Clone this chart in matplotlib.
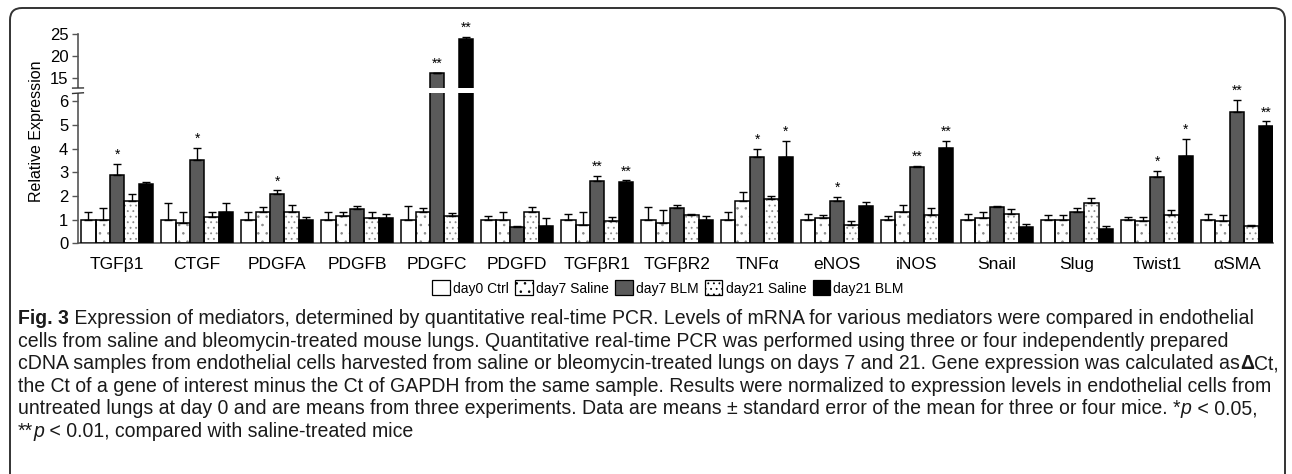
import matplotlib
matplotlib.use('Agg')
import matplotlib.pyplot as plt
import numpy as np
from matplotlib import font_manager as fm
from matplotlib.patches import FancyBboxPatch, Patch
from matplotlib.lines import Line2D
import matplotlib.transforms as mtransforms

genes = ["TGFβ1", "CTGF", "PDGFA", "PDGFB", "PDGFC", "PDGFD", "TGFβR1", "TGFβR2",
         "TNFα", "eNOS", "iNOS", "Snail", "Slug", "Twist1", "αSMA"]
groups = ["day0 Ctrl", "day7 Saline", "day7 BLM", "day21 Saline", "day21 BLM"]

day0_ctrl = [1.0, 1.0, 1.0, 1.0, 1.0, 1.0, 1.0, 1.0, 1.0, 1.0, 1.0, 1.0, 1.0, 1.0, 1.0]
day0_ctrl_err = [0.34, 0.72, 0.30, 0.34, 0.58, 0.14, 0.25, 0.54, 0.34, 0.25, 0.14, 0.24, 0.20, 0.10, 0.24]
day7_saline = [1.0, 0.86, 1.30, 1.14, 1.30, 1.00, 0.77, 0.86, 1.77, 1.06, 1.34, 1.06, 1.00, 0.92, 0.96]
day7_saline_err = [0.49, 0.44, 0.24, 0.20, 0.19, 0.30, 0.53, 0.53, 0.40, 0.14, 0.29, 0.28, 0.20, 0.18, 0.24]
day7_blm = [2.87, 3.50, 2.07, 1.45, 16.0, 0.68, 2.63, 1.49, 3.65, 1.77, 3.23, 1.54, 1.34, 2.79, 5.56]
day7_blm_err = [0.48, 0.53, 0.16, 0.13, 0.10, 0.04, 0.20, 0.14, 0.34, 0.20, 0.03, 0.04, 0.15, 0.28, 0.50]
day21_saline = [1.77, 1.10, 1.34, 1.06, 1.15, 1.30, 0.96, 1.20, 1.87, 0.76, 1.20, 1.25, 1.68, 1.20, 0.75]
day21_saline_err = [0.33, 0.20, 0.29, 0.28, 0.12, 0.24, 0.14, 0.05, 0.14, 0.20, 0.29, 0.20, 0.24, 0.19, 0.04]
day21_blm = [2.49, 1.30, 1.00, 1.06, 23.85, 0.72, 2.59, 1.00, 3.65, 1.59, 4.04, 0.68, 0.62, 3.70, 4.96]
day21_blm_err = [0.09, 0.38, 0.10, 0.18, 0.60, 0.34, 0.06, 0.14, 0.67, 0.14, 0.28, 0.14, 0.10, 0.72, 0.18]
sig_day7_blm = ["*", "*", "*", "", "**", "", "**", "", "*", "*", "**", "", "", "*", "**"]
sig_day21_blm = ["", "", "", "", "**", "", "**", "", "*", "", "**", "", "", "*", "**"]

yticks = [0, 1, 2, 3, 4, 5, 6, 15, 20, 25]
ylabel = "Relative Expression"

caption_lines = [
    [("Fig. 3", "bold", "normal"),
     (" Expression of mediators, determined by quantitative real-time PCR. Levels of mRNA for various mediators were compared in endothelial", "normal", "normal")],
    [("cells from saline and bleomycin-treated mouse lungs. Quantitative real-time PCR was performed using three or four independently prepared", "normal", "normal")],
    [("cDNA samples from endothelial cells harvested from saline or bleomycin-treated lungs on days 7 and 21. Gene expression was calculated as", "normal", "normal"),
     ("Δ", "bold", "normal"), ("Ct,", "normal", "normal")],
    [("the Ct of a gene of interest minus the Ct of GAPDH from the same sample. Results were normalized to expression levels in endothelial cells from", "normal", "normal")],
    [("untreated lungs at day 0 and are means from three experiments. Data are means ± standard error of the mean for three or four mice. *", "normal", "normal"),
     ("p", "normal", "italic"), (" < 0.05,", "normal", "normal")],
    [("**", "normal", "normal"), ("p", "normal", "italic"), (" < 0.01, compared with saline-treated mice", "normal", "normal")],
]

# ---------------------------------------------------------------- fonts
names = {f.name for f in fm.fontManager.ttflist}
base_font = next((f for f in ['Liberation Sans', 'Arimo'] if f in names), 'DejaVu Sans')
cap_font = base_font
plt.rcParams['font.family'] = [base_font, 'DejaVu Sans']

W, H, DPI = 1292, 474, 100
fig = plt.figure(figsize=(W / DPI, H / DPI), dpi=DPI)

x0, x1 = 78, 1273
y_top, y_bot = 34.3, 243.3
ax = fig.add_axes([x0 / W, 1 - y_bot / H, (x1 - x0) / W, (y_bot - y_top) / H])

# ---------------------------------------------------------------- broken scale
LO, HI, GAP, K = 6.35, 12.61, 0.20, 0.1831


def fwd(v):
    v = np.asarray(v, dtype=float)
    return np.where(v <= LO, v,
                    np.where(v >= HI, LO + GAP + K * (v - HI),
                             LO + (v - LO) * GAP / (HI - LO)))


def inv(y):
    y = np.asarray(y, dtype=float)
    return np.where(y <= LO, y,
                    np.where(y >= LO + GAP, HI + (y - LO - GAP) / K,
                             LO + (y - LO) * (HI - LO) / GAP))


ax.set_yscale('function', functions=(fwd, inv))

series = [day0_ctrl, day7_saline, day7_blm, day21_saline, day21_blm]
errs = [day0_ctrl_err, day7_saline_err, day7_blm_err, day21_saline_err, day21_blm_err]
faces = ['white', 'white', '#5a5a5a', 'white', 'black']
hatches = [None, '..', None, '...', None]
x = np.arange(len(genes))
bw = 0.18
offsets = (np.arange(5) - 2) * bw

plt.rcParams['hatch.linewidth'] = 0.6
for i in range(5):
    vals = np.array(series[i])
    if hatches[i]:
        ax.bar(x + offsets[i], vals, bw, color='white', edgecolor='#8a8a8a',
               hatch=hatches[i], linewidth=0, zorder=2)
        ax.bar(x + offsets[i], vals, bw, color='none', edgecolor='black',
               linewidth=1.1, zorder=3)
    else:
        ax.bar(x + offsets[i], vals, bw, color=faces[i], edgecolor='black',
               linewidth=1.1, zorder=3)
    e = np.array(errs[i])
    ax.errorbar(x + offsets[i], vals, yerr=[np.zeros_like(e), e], fmt='none',
                ecolor='black', elinewidth=1.0, capsize=3, capthick=1.0, zorder=4)

for sig, vals, e, k in [(sig_day7_blm, day7_blm, day7_blm_err, 2),
                        (sig_day21_blm, day21_blm, day21_blm_err, 4)]:
    for j, s in enumerate(sig):
        if s:
            ax.annotate(s, (x[j] + offsets[k], vals[j] + e[j]), xytext=(0, 1.5),
                        textcoords='offset points', ha='center', va='bottom',
                        fontsize=10, zorder=9, annotation_clip=False)

# white gap across the break (cuts the PDGFC bars)
ax.axhspan(LO + 0.005, HI - 0.005, xmin=0.004, xmax=1, facecolor='white',
           edgecolor='none', zorder=5)

ax.set_ylim(0, 25)
ax.set_xlim(-0.49, 14.45)
ax.set_yticks(yticks)
ax.set_yticklabels([str(t) for t in yticks], fontsize=12)
ax.set_xticks(x)
ax.set_xticklabels(genes, fontsize=12.5)
ax.tick_params(axis='x', length=0, pad=10)
ax.tick_params(axis='y', length=4, width=1, color='#555555', pad=3)
for s in ['top', 'right']:
    ax.spines[s].set_visible(False)
for s in ['left', 'bottom']:
    ax.spines[s].set_color('#555555')
    ax.spines[s].set_linewidth(1.2)
ax.set_ylabel(ylabel, fontsize=11.5)
ax.yaxis.set_label_coords(-0.0285, 0.537)

# break marks on the y axis
trans = mtransforms.blended_transform_factory(ax.transAxes, ax.transData)
ax.add_patch(plt.Rectangle((-0.006, LO + 0.005), 0.012, HI - LO - 0.01,
                           transform=trans, facecolor='white', edgecolor='none',
                           clip_on=False, zorder=6))
for yb in (LO, HI):
    ax.add_line(Line2D([-0.0045, 0.0045], [yb - 0.03, yb + 0.03], transform=trans,
                       color='#333333', lw=1.0, clip_on=False, zorder=7))

# legend
handles = [Patch(facecolor=faces[i], edgecolor='black', hatch=hatches[i], linewidth=0.9)
           for i in range(5)]
fig.legend(handles, groups, loc='center', bbox_to_anchor=(668 / W, 1 - 288 / H),
           ncol=5, frameon=False, fontsize=10, handlelength=1.25, handleheight=1.25,
           handletextpad=0.25, columnspacing=0.45, borderpad=0)

# border
fig.add_artist(FancyBboxPatch((10 / DPI, -0.5), (1285 - 10) / DPI, (H - 8) / DPI + 0.5,
                              boxstyle='round,pad=0,rounding_size=0.12',
                              transform=fig.dpi_scale_trans, facecolor='none',
                              edgecolor='#333333', linewidth=1.4, clip_on=False))

# caption
renderer = fig.canvas.get_renderer()
test = fig.text(0, 0, caption_lines[3][0][0], fontsize=12, family=[cap_font, 'DejaVu Sans'])
wtest = test.get_window_extent(renderer).width
test.remove()
cap_size = 12 * (1272 - 18) / wtest

baselines = [324, 346.6, 369.2, 391.8, 414.4, 437.0]
for line, yb in zip(caption_lines, baselines):
    xp = 18.0
    for txt, wt, st in line:
        t = fig.text(xp / W, 1 - yb / H, txt, fontsize=cap_size, fontweight=wt, fontstyle=st,
                     family=[cap_font, 'DejaVu Sans'], va='baseline', ha='left', color='#1a1a1a')
        xp += t.get_window_extent(renderer).width

fig.savefig('out.png', dpi=DPI)
